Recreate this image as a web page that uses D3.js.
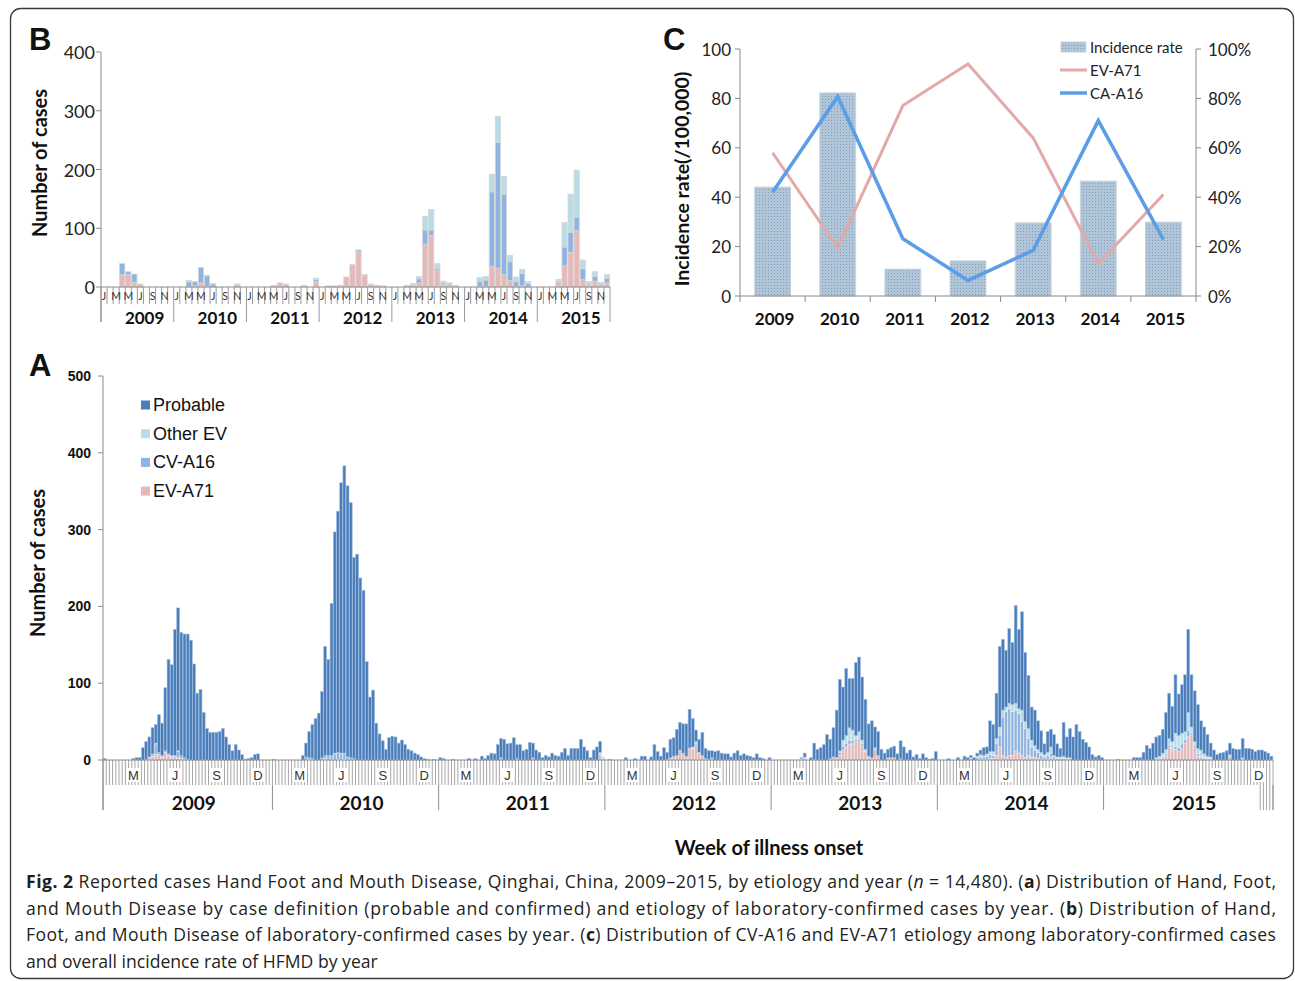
<!DOCTYPE html>
<html>
<head>
<meta charset="utf-8">
<script src="https://cdn.jsdelivr.net/npm/d3@7/dist/d3.min.js"></script>
<style>
html,body{margin:0;padding:0;background:#fff;}
svg{display:block;}
</style>
</head>
<body>
<svg id="chart" width="1295" height="981"></svg>
<script>
// ================= DATA =================
const years = [2009, 2010, 2011, 2012, 2013, 2014, 2015];
const weeksPerYear = [53, 52, 52, 52, 52, 52, 53];
const yTicksA = [0, 100, 200, 300, 400, 500];
const yTicksB = [0, 100, 200, 300, 400];
const yTicksCLeft = [0, 20, 40, 60, 80, 100];
const yTicksCRight = [0, 20, 40, 60, 80, 100];
const weekMonthLabels = ["M", "J", "S", "D"];
const bMonthLabels = ["J", "", "M", "", "M", "", "J", "", "S", "", "N", ""];
const seriesA = ["Probable", "Other EV", "CV-A16", "EV-A71"];

// Panel A: weekly counts by etiology (ISO weeks)
const probable2009 = [2,0,0,0,0,0,0,0,0,2, 3,3,16,23,26,34,24,49,42,82, 123,118,164,186,160,161,163,156,125,87, 92,62,41,36,36,36,37,41,30,20, 12,20,13,7,1,2,3,7,8,0, 0,0,0];
const ev2009 = [0,0,0,0,0,0,0,0,0,0, 0,0,0,1,3,5,7,7,4,10, 6,5,4,3,2,1,1,0,0,0, 0,0,0,0,0,0,0,0,0,0, 0,0,0,0,0,0,0,0,0,0, 0,0,0];
const cv2009 = [0,0,0,0,0,0,0,0,0,0, 0,0,0,0,1,3,14,3,2,2, 2,1,2,8,4,2,0,0,0,0, 0,0,0,0,0,0,0,0,0,0, 0,0,0,0,0,0,0,0,0,0, 0,0,0];
const other2009 = [0,0,0,0,0,0,0,0,0,0, 0,0,0,0,0,0,1,0,0,0, 0,0,0,1,0,0,0,0,0,0, 0,0,0,0,0,0,0,0,0,0, 0,0,0,0,0,0,0,0,0,0, 0,0,0];

const probable2010 = [1,0,0,0,0,0,0,0,0,6, 18,34,44,54,61,86,142,125,198,288, 314,352,374,353,332,262,268,237,221,128, 82,91,48,34,25,14,29,31,30,22, 26,20,14,12,9,7,4,2,1,0, 1,0];
const ev2010 = [0,0,0,0,0,0,0,0,0,0, 0,1,0,0,0,0,2,0,1,0, 1,0,1,0,0,0,0,0,0,0, 0,0,0,0,0,0,0,0,0,0, 0,0,0,0,0,0,0,0,0,0, 0,0];
const cv2010 = [0,0,0,0,0,0,0,0,0,0, 4,2,2,0,0,3,4,6,5,8, 9,8,8,4,3,2,0,0,0,0, 0,0,0,0,0,0,0,0,0,0, 0,0,0,0,0,0,0,0,0,0, 0,0];
const other2010 = [0,0,0,0,0,0,0,0,0,0, 0,0,0,0,0,0,0,0,0,1, 0,1,0,0,0,0,0,0,0,0, 0,0,0,0,0,0,0,0,0,0, 0,0,0,0,0,0,0,0,0,0, 0,0];

const probable2011 = [3,2,0,0,1,0,0,0,0,2, 0,2,0,5,2,6,9,8,20,25, 27,21,22,29,18,20,12,14,23,19, 13,10,3,6,4,9,6,5,10,15, 6,15,15,15,27,17,12,3,13,17, 14,0];
const ev2011 = [0,0,0,0,0,0,0,0,0,0, 0,0,0,0,0,0,0,0,0,3, 0,0,0,0,2,0,0,0,0,3, 0,0,0,0,0,0,0,0,0,0, 0,0,0,0,0,0,0,0,0,0, 7,2];
const cv2011 = [0,0,0,0,0,0,0,0,0,0, 0,0,0,0,0,0,0,0,0,0, 0,0,0,0,0,0,0,0,0,0, 0,0,0,0,0,0,0,0,0,0, 0,0,0,0,0,0,0,0,0,0, 1,0];
const other2011 = [0,0,0,0,0,0,0,0,0,0, 0,0,0,0,0,0,0,0,0,0, 0,0,0,0,0,0,0,0,0,0, 0,0,0,0,0,0,0,0,0,0, 0,0,0,0,0,0,0,0,0,0, 2,2];

const probable2012 = [0,1,0,0,0,0,3,0,0,2, 0,5,5,0,4,20,11,5,16,9, 24,24,34,36,38,42,50,37,15,17, 30,13,11,9,11,12,9,8,8,4, 9,12,6,8,6,5,3,8,3,2, 0,3];
const ev2012 = [0,0,0,0,0,0,0,0,0,0, 0,0,0,0,0,0,0,0,0,1, 3,5,6,13,9,5,14,15,19,9, 6,2,1,3,0,0,0,0,0,0, 0,0,0,0,0,0,0,0,0,0, 0,0];
const cv2012 = [0,0,0,0,0,0,0,0,0,0, 0,0,0,0,0,0,0,0,0,0, 0,0,0,0,0,0,2,0,2,0, 0,0,0,0,0,0,0,0,0,0, 0,0,0,0,0,0,0,0,0,0, 0,0];
const other2012 = [0,0,0,0,0,0,0,0,0,0, 0,0,0,0,0,0,0,0,0,0, 0,0,0,0,0,0,0,2,3,1, 0,0,0,0,0,0,0,0,0,0, 0,0,0,0,0,0,0,0,0,0, 0,0];

const probable2013 = [0,0,0,0,0,0,0,0,0,1, 5,0,3,21,14,16,20,33,25,38, 62,93,69,87,64,67,95,97,82,65, 42,48,27,31,14,9,11,13,15,8, 23,17,9,13,4,7,2,8,3,1, 2,11];
const ev2013 = [0,0,0,0,0,0,0,0,0,2, 2,0,0,1,0,0,0,0,2,4, 2,6,13,17,20,21,24,28,18,11, 4,3,14,6,0,0,3,3,3,0, 2,0,0,0,0,0,0,0,0,0, 0,0];
const cv2013 = [0,0,0,0,0,0,0,0,0,0, 2,0,0,0,0,0,0,0,0,0, 1,4,5,5,6,5,3,2,3,0, 0,0,0,0,0,0,0,0,0,0, 0,0,0,0,0,0,0,0,0,0, 0,0];
const other2013 = [0,0,0,0,0,0,0,0,0,0, 0,0,0,0,0,0,0,0,0,0, 0,2,8,10,16,13,5,7,5,3, 1,0,2,0,0,0,0,0,0,0, 0,0,0,0,0,0,0,0,0,0, 0,0];

const probable2014 = [0,0,0,2,0,0,3,0,5,3, 3,3,4,6,10,9,40,35,59,105, 92,74,97,81,127,103,128,90,69,43, 46,37,28,14,27,23,27,17,11,44, 27,38,30,46,37,27,23,17,7,4, 6,3];
const ev2014 = [0,0,0,0,0,0,0,0,0,0, 0,0,0,1,1,1,2,2,6,17, 6,4,6,6,11,9,6,3,6,4, 3,2,1,1,1,4,1,0,0,0, 0,0,0,0,0,0,0,0,0,0, 0,0];
const cv2014 = [0,0,0,0,0,0,0,0,0,0, 2,0,3,3,3,4,5,4,16,15, 50,59,61,57,54,52,44,38,22,13, 10,8,5,3,5,5,3,2,2,2, 1,2,0,0,0,0,0,0,0,0, 0,0];
const other2014 = [0,0,0,0,0,0,0,0,0,0, 1,0,2,3,2,3,4,5,6,11, 9,6,7,9,9,6,15,9,13,9, 6,4,4,3,4,8,2,2,2,3, 2,1,0,0,0,0,0,0,0,0, 0,0];

const probable2015 = [0,0,0,0,1,0,0,0,0,3, 3,3,10,19,15,22,27,27,31,48, 59,46,76,54,63,74,108,68,66,57, 38,35,28,18,13,7,9,10,12,15, 15,14,14,25,15,15,14,11,13,13, 11,9,5];
const ev2015 = [0,0,0,0,0,0,0,0,0,0, 0,0,0,0,0,0,1,2,4,6, 16,13,14,11,15,22,30,32,16,5, 3,2,1,1,0,0,0,0,0,5, 0,0,0,1,0,0,0,0,0,0, 0,0,0];
const cv2015 = [0,0,0,0,0,0,0,0,0,0, 0,0,0,0,0,0,0,0,1,2, 3,2,4,5,6,5,9,3,3,3, 2,1,1,1,0,0,0,0,0,0, 0,0,0,0,0,0,0,0,0,0, 0,0,0];
const other2015 = [0,0,0,0,0,0,0,0,0,0, 0,0,0,0,0,0,2,3,4,6, 9,9,17,16,14,10,23,8,5,7, 8,5,3,2,0,0,0,0,0,2, 0,0,0,2,0,0,0,0,0,0, 0,0,0];

// Panel B: monthly laboratory-confirmed cases (Jan..Dec per year)
const bEV = [
  0,0,0,21,21,8,5,0,0,0,0,0,
  0,0,0,2,7,1,0,0,0,0,4,0,
  0,0,0,0,3,7,5,0,0,1,0,9,
  0,2,2,3,17,38,60,20,5,3,2,0,
  0,0,2,4,7,73,88,28,4,2,1,0,
  0,0,1,1,35,32,21,11,1,2,0,0,
  0,0,0,9,36,59,96,13,2,10,2,7];
const bCV = [
  0,0,0,19,5,14,0,0,0,0,0,0,
  0,0,9,7,26,18,5,0,0,0,0,0,
  0,0,0,0,0,0,0,0,0,2,0,4,
  0,0,0,0,0,0,3,1,0,0,0,0,
  0,0,0,0,7,24,9,3,3,3,0,0,
  0,0,9,11,127,214,137,32,8,21,6,0,
  0,0,0,0,32,34,23,18,3,8,3,8];
const bOther = [
  0,0,0,0,0,0,0,0,0,0,0,0,
  0,0,2,0,0,1,1,0,0,0,1,0,
  0,0,0,0,0,0,0,0,0,0,0,2,
  0,0,0,0,0,0,0,0,0,0,0,0,
  0,0,1,2,4,23,35,9,3,2,2,0,
  0,0,6,6,30,44,30,11,8,7,3,0,
  0,0,0,4,42,65,80,15,4,8,3,6];

// Panel C: annual incidence and etiology shares
const incidenceRate = [44.1, 82.2, 10.9, 14.2, 29.6, 46.5, 29.9];
const evA71Share = [58, 19.4, 77.1, 93.9, 64, 13.1, 41.1];
const caA16Share = [42, 80.7, 23.2, 6.3, 18.5, 71, 22.8];

// ================= DRAW =================
const svg = d3.select("#chart");
const COL = {ev: "#e6b9b8", cv: "#8eb4e3", oth: "#b7dee8", prob: "#4a7ebb"};
const AXC = "#8a8a8a";
const FONT_CAL = "Lato, 'Open Sans', sans-serif";
const FONT_ARI = "'Liberation Sans', Arial, sans-serif";

// outer frame
svg.append("rect").attr("x", 10.5).attr("y", 8.5).attr("width", 1283).attr("height", 970)
  .attr("rx", 10).attr("fill", "none").attr("stroke", "#3a3a3a").attr("stroke-width", 1.3);

// ---------- PANEL A ----------
const probByYear = [probable2009, probable2010, probable2011, probable2012, probable2013, probable2014, probable2015];
const evByYear = [ev2009, ev2010, ev2011, ev2012, ev2013, ev2014, ev2015];
const cvByYear = [cv2009, cv2010, cv2011, cv2012, cv2013, cv2014, cv2015];
const othByYear = [other2009, other2010, other2011, other2012, other2013, other2014, other2015];

const weeks = [];
const yearStart = [];
years.forEach((yr, yi) => {
  yearStart.push(weeks.length);
  for (let w = 0; w < weeksPerYear[yi]; w++) {
    weeks.push({i: weeks.length, yi, w,
      ev: evByYear[yi][w] || 0, cv: cvByYear[yi][w] || 0,
      oth: othByYear[yi][w] || 0, prob: probByYear[yi][w] || 0});
  }
});
const nWeeks = weeks.length;

const aX = d3.scaleBand().domain(d3.range(nWeeks)).range([103, 1273]).padding(0);
const aY = d3.scaleLinear().domain([0, 500]).range([760, 376]);
const step = aX.step();

const gA = svg.append("g");
const stackA = d3.stack().keys(["ev", "cv", "oth", "prob"])(weeks);
stackA.forEach(layer => {
  gA.append("g").selectAll("rect")
    .data(layer.filter(d => d[1] - d[0] > 0))
    .join("rect")
    .attr("x", d => aX(d.data.i) + 0.15)
    .attr("width", aX.bandwidth() - 0.3)
    .attr("y", d => aY(d[1]))
    .attr("height", d => aY(d[0]) - aY(d[1]))
    .attr("fill", COL[layer.key])
    .attr("stroke", layer.key === "prob" ? "#a3bddf" : "#e9eef5")
    .attr("stroke-width", 0.6);
});

// axis line
gA.append("line").attr("x1", 103).attr("x2", 1273).attr("y1", 760).attr("y2", 760)
  .attr("stroke", AXC).attr("stroke-width", 1);
// week ticks
gA.append("g").selectAll("line").data(d3.range(nWeeks + 1)).join("line")
  .attr("x1", i => 103 + i * step).attr("x2", i => 103 + i * step)
  .attr("y1", 760).attr("y2", i => i >= nWeeks - 4 ? 810 : 785)
  .attr("stroke", "#8f8f8f").attr("stroke-width", 0.8);
// year separators
gA.append("g").selectAll("line").data(yearStart.concat([nWeeks])).join("line")
  .attr("x1", i => 103 + i * step).attr("x2", i => 103 + i * step)
  .attr("y1", 785).attr("y2", 810)
  .attr("stroke", "#8f8f8f").attr("stroke-width", 1);
// month labels
const monthWeekIdx53 = [9, 22, 35, 48];
const monthWeekIdx52 = [8, 21, 34, 47];
years.forEach((yr, yi) => {
  const idx = weeksPerYear[yi] === 53 ? monthWeekIdx53 : monthWeekIdx52;
  idx.forEach((w, k) => {
    const cx = aX(yearStart[yi] + w) + step / 2;
    gA.append("rect").attr("x", cx - 6).attr("y", 768).attr("width", 12).attr("height", 14).attr("fill", "#fff");
    gA.append("text").attr("x", cx).attr("y", 775).attr("text-anchor", "middle")
      .attr("dominant-baseline", "central").attr("font-family", FONT_ARI).attr("font-size", 13)
      .attr("fill", "#333").text(weekMonthLabels[k]);
  });
  const c = 103 + (yearStart[yi] + weeksPerYear[yi] / 2) * step + 6;
  gA.append("text").attr("x", c).attr("y", 810).attr("text-anchor", "middle")
    .attr("font-family", FONT_CAL).attr("font-weight", "bold").attr("font-size", 19)
    .attr("fill", "#111").text(yr);
});
// y axis
gA.append("line").attr("x1", 103).attr("x2", 103).attr("y1", 376).attr("y2", 810)
  .attr("stroke", AXC).attr("stroke-width", 1);
gA.append("g").selectAll("line").data(yTicksA).join("line")
  .attr("x1", 98).attr("x2", 103).attr("y1", d => aY(d)).attr("y2", d => aY(d))
  .attr("stroke", AXC);
gA.append("g").selectAll("text").data(yTicksA).join("text")
  .attr("x", 91).attr("y", d => aY(d)).attr("text-anchor", "end").attr("dominant-baseline", "central")
  .attr("font-family", FONT_ARI).attr("font-weight", "bold").attr("font-size", 14).attr("fill", "#111")
  .text(d => d);
gA.append("text").attr("transform", "translate(45,563) rotate(-90)").attr("text-anchor", "middle")
  .attr("font-family", FONT_CAL).attr("font-weight", "bold").attr("font-size", 20).attr("fill", "#111")
  .text("Number of cases");
gA.append("text").attr("x", 769).attr("y", 855).attr("text-anchor", "middle")
  .attr("font-family", FONT_CAL).attr("font-weight", "bold").attr("font-size", 20).attr("fill", "#111")
  .text("Week of illness onset");
// legend A
const legColA = [COL.prob, COL.oth, COL.cv, COL.ev];
seriesA.forEach((s, k) => {
  const cy = 405 + k * 28.7;
  gA.append("rect").attr("x", 141).attr("y", cy - 4.5).attr("width", 9).attr("height", 9).attr("fill", legColA[k]);
  gA.append("text").attr("x", 153).attr("y", cy).attr("dominant-baseline", "central")
    .attr("font-family", FONT_ARI).attr("font-size", 18).attr("fill", "#111").text(s);
});
// panel letter
svg.append("text").attr("x", 29).attr("y", 376).attr("font-family", FONT_ARI).attr("font-weight", "bold")
  .attr("font-size", 31).attr("fill", "#111").text("A");

// ---------- PANEL B ----------
const months = [];
years.forEach((yr, yi) => {
  for (let m = 0; m < 12; m++) {
    const k = yi * 12 + m;
    months.push({i: k, yi, m, ev: bEV[k], cv: bCV[k], oth: bOther[k]});
  }
});
const bX = d3.scaleBand().domain(d3.range(84)).range([101, 610]).paddingInner(0.14).paddingOuter(0.07);
const bY = d3.scaleLinear().domain([0, 400]).range([287, 52]);
const bX0 = 101, bW = (610 - 101) / 84;
const gB = svg.append("g");
const stackB = d3.stack().keys(["ev", "cv", "oth"])(months);
const COLB = {ev: "#e6b9b8", cv: "#8db4e2", oth: "#b7dde8"};
stackB.forEach(layer => {
  gB.append("g").selectAll("rect")
    .data(layer.filter(d => d[1] - d[0] > 0))
    .join("rect")
    .attr("x", d => bX(d.data.i))
    .attr("width", bX.bandwidth())
    .attr("y", d => bY(d[1]))
    .attr("height", d => bY(d[0]) - bY(d[1]))
    .attr("fill", COLB[layer.key])
    .attr("stroke", "#d6d6d6").attr("stroke-width", 0.8);
});
gB.append("line").attr("x1", 101).attr("x2", 610).attr("y1", 287).attr("y2", 287).attr("stroke", AXC);
gB.append("g").selectAll("line").data(d3.range(85)).join("line")
  .attr("x1", i => bX0 + i * bW).attr("x2", i => bX0 + i * bW)
  .attr("y1", 287).attr("y2", i => i % 12 === 0 ? 322 : 304)
  .attr("stroke", "#8f8f8f").attr("stroke-width", 0.9);
years.forEach((yr, yi) => {
  bMonthLabels.forEach((lab, m) => {
    if (!lab) return;
    gB.append("text").attr("x", bX0 + (yi * 12 + m + 0.5) * bW).attr("y", 296)
      .attr("text-anchor", "middle").attr("dominant-baseline", "central")
      .attr("font-family", FONT_CAL).attr("font-size", 10.5).attr("fill", "#333").text(lab);
  });
  gB.append("text").attr("x", bX0 + (yi * 12 + 7.2) * bW).attr("y", 324)
    .attr("text-anchor", "middle").attr("font-family", FONT_CAL).attr("font-weight", "bold")
    .attr("font-size", 17).attr("fill", "#111").text(yr);
});
gB.append("line").attr("x1", 101).attr("x2", 101).attr("y1", 52).attr("y2", 322).attr("stroke", AXC);
gB.append("g").selectAll("line").data(yTicksB).join("line")
  .attr("x1", 96).attr("x2", 101).attr("y1", d => bY(d)).attr("y2", d => bY(d)).attr("stroke", AXC);
gB.append("g").selectAll("text").data(yTicksB).join("text")
  .attr("x", 95).attr("y", d => bY(d)).attr("text-anchor", "end").attr("dominant-baseline", "central")
  .attr("font-family", FONT_CAL).attr("font-size", 18).attr("fill", "#222").text(d => d);
gB.append("text").attr("transform", "translate(47,163) rotate(-90)").attr("text-anchor", "middle")
  .attr("font-family", FONT_CAL).attr("font-weight", "bold").attr("font-size", 20).attr("fill", "#111")
  .text("Number of cases");
svg.append("text").attr("x", 29).attr("y", 50).attr("font-family", FONT_ARI).attr("font-weight", "bold")
  .attr("font-size", 31).attr("fill", "#111").text("B");

// ---------- PANEL C ----------
const defs = svg.append("defs");
const pat = defs.append("pattern").attr("id", "dotfill").attr("patternUnits", "userSpaceOnUse")
  .attr("width", 3).attr("height", 3);
pat.append("rect").attr("width", 3).attr("height", 3).attr("fill", "#b0c5d8");
pat.append("rect").attr("width", 1).attr("height", 1).attr("fill", "#839fbd");

const cX = d3.scaleBand().domain(years).range([740, 1196]).paddingInner(0.45).paddingOuter(0.225);
const cYL = d3.scaleLinear().domain([0, 100]).range([296, 49]);
const cYR = d3.scaleLinear().domain([0, 100]).range([296, 49]);
const gC = svg.append("g");
gC.append("g").selectAll("rect").data(years).join("rect")
  .attr("x", d => cX(d)).attr("width", cX.bandwidth())
  .attr("y", (d, i) => cYL(incidenceRate[i])).attr("height", (d, i) => 296 - cYL(incidenceRate[i]))
  .attr("fill", "url(#dotfill)").attr("stroke", "#c9d3dc").attr("stroke-width", 1);
const lineC = d3.line().x((d, i) => cX(years[i]) + cX.bandwidth() / 2).y(d => cYR(d));
gC.append("path").attr("d", lineC(evA71Share)).attr("fill", "none").attr("stroke", "#e3a9a8").attr("stroke-width", 3);
gC.append("path").attr("d", lineC(caA16Share)).attr("fill", "none").attr("stroke", "#5b9de6").attr("stroke-width", 3.5);
// axes
gC.append("line").attr("x1", 740).attr("x2", 740).attr("y1", 49).attr("y2", 296).attr("stroke", AXC);
gC.append("line").attr("x1", 1196).attr("x2", 1196).attr("y1", 49).attr("y2", 296).attr("stroke", AXC);
gC.append("line").attr("x1", 740).attr("x2", 1196).attr("y1", 296).attr("y2", 296).attr("stroke", AXC);
gC.append("g").selectAll("line").data(d3.range(8)).join("line")
  .attr("x1", i => 740 + i * cX.step()).attr("x2", i => 740 + i * cX.step())
  .attr("y1", 296).attr("y2", 302).attr("stroke", AXC);
gC.append("g").selectAll("line").data(yTicksCLeft).join("line")
  .attr("x1", 735).attr("x2", 740).attr("y1", d => cYL(d)).attr("y2", d => cYL(d)).attr("stroke", AXC);
gC.append("g").selectAll("line").data(yTicksCRight).join("line")
  .attr("x1", 1196).attr("x2", 1201).attr("y1", d => cYR(d)).attr("y2", d => cYR(d)).attr("stroke", AXC);
gC.append("g").selectAll("text").data(yTicksCLeft).join("text")
  .attr("x", 731).attr("y", d => cYL(d)).attr("text-anchor", "end").attr("dominant-baseline", "central")
  .attr("font-family", FONT_CAL).attr("font-size", 17).attr("fill", "#222").text(d => d);
gC.append("g").selectAll("text").data(yTicksCRight).join("text")
  .attr("x", 1208).attr("y", d => cYR(d)).attr("dominant-baseline", "central")
  .attr("font-family", FONT_CAL).attr("font-size", 17).attr("fill", "#222").text(d => d + "%");
gC.append("g").selectAll("text").data(years).join("text")
  .attr("x", d => cX(d) + cX.bandwidth() / 2 + 2).attr("y", 318).attr("text-anchor", "middle")
  .attr("dominant-baseline", "central").attr("font-family", FONT_CAL).attr("font-weight", "bold")
  .attr("font-size", 17).attr("fill", "#111").text(d => d);
gC.append("text").attr("transform", "translate(689,179) rotate(-90)").attr("text-anchor", "middle")
  .attr("font-family", FONT_CAL).attr("font-weight", "bold").attr("font-size", 19.5).attr("fill", "#111")
  .text("Incidence rate(/100,000)");
// legend C
gC.append("rect").attr("x", 1061).attr("y", 42).attr("width", 25).attr("height", 10)
  .attr("fill", "url(#dotfill)").attr("stroke", "#c9d3dc");
gC.append("text").attr("x", 1090).attr("y", 47).attr("dominant-baseline", "central")
  .attr("font-family", FONT_CAL).attr("font-size", 15).attr("fill", "#222").text("Incidence rate");
gC.append("line").attr("x1", 1060).attr("x2", 1087).attr("y1", 70).attr("y2", 70)
  .attr("stroke", "#e3a9a8").attr("stroke-width", 3);
gC.append("text").attr("x", 1090).attr("y", 70).attr("dominant-baseline", "central")
  .attr("font-family", FONT_CAL).attr("font-size", 15).attr("fill", "#222").text("EV-A71");
gC.append("line").attr("x1", 1060).attr("x2", 1087).attr("y1", 93).attr("y2", 93)
  .attr("stroke", "#5b9de6").attr("stroke-width", 3.5);
gC.append("text").attr("x", 1090).attr("y", 93).attr("dominant-baseline", "central")
  .attr("font-family", FONT_CAL).attr("font-size", 15).attr("fill", "#222").text("CA-A16");
svg.append("text").attr("x", 663).attr("y", 50).attr("font-family", FONT_ARI).attr("font-weight", "bold")
  .attr("font-size", 31).attr("fill", "#111").text("C");

// ---------- CAPTION ----------
const capLines = [
  [["Fig. 2", "b"], [" Reported cases Hand Foot and Mouth Disease, Qinghai, China, 2009\u20132015, by etiology and year (", ""], ["n", "i"], [" = 14,480). (", ""], ["a", "b"], [") Distribution of Hand, Foot,", ""]],
  [["and Mouth Disease by case definition (probable and confirmed) and etiology of laboratory-confirmed cases by year. (", ""], ["b", "b"], [") Distribution of Hand,", ""]],
  [["Foot, and Mouth Disease of laboratory-confirmed cases by year. (", ""], ["c", "b"], [") Distribution of CV-A16 and EV-A71 etiology among laboratory-confirmed cases", ""]],
  [["and overall incidence rate of HFMD by year", ""]]
];
const capY = [888, 914.5, 941, 967.5];
capLines.forEach((parts, li) => {
  const t = svg.append("text").attr("x", 26).attr("y", capY[li])
    .attr("font-family", "'Open Sans', 'Noto Sans', sans-serif").attr("font-size", 17.6).attr("fill", "#231f20");
  if (li < 3) t.attr("textLength", 1250).attr("lengthAdjust", "spacing");
  parts.forEach(([txt, st]) => {
    const s = t.append("tspan").text(txt);
    if (st === "b") s.attr("font-weight", "bold");
    if (st === "i") s.attr("font-style", "italic");
  });
});
</script>
</body>
</html>
